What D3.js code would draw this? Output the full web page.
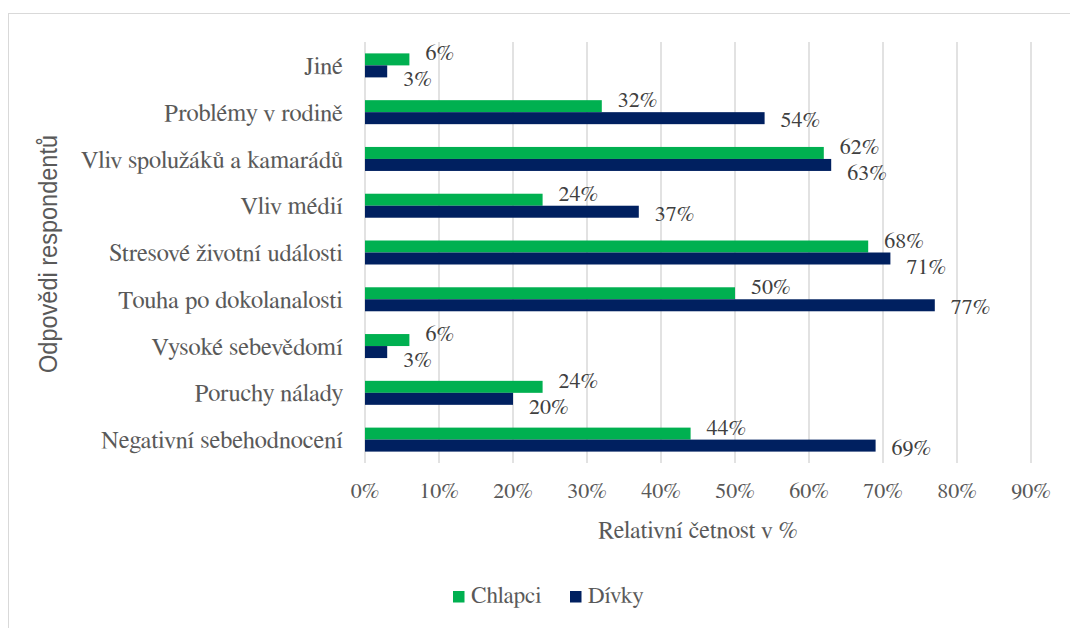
<!DOCTYPE html>
<html>
<head>
<meta charset="utf-8">
<script src="https://cdn.jsdelivr.net/npm/d3@7"></script>
<style>
  body { margin: 0; background: #fff; }
</style>
</head>
<body>
<div id="chart"></div>
<script>
const categories = [
  "Jiné",
  "Problémy v rodině",
  "Vliv spolužáků a kamarádů",
  "Vliv médií",
  "Stresové životní události",
  "Touha po dokolanalosti",
  "Vysoké sebevědomí",
  "Poruchy nálady",
  "Negativní sebehodnocení",
];
const chlapci = [6, 32, 62, 24, 68, 50, 6, 24, 44];
const divky = [3, 54, 63, 37, 71, 77, 3, 20, 69];
const xTicks = [0, 10, 20, 30, 40, 50, 60, 70, 80, 90];
const seriesNames = ["Chlapci", "Dívky"];
const colors = ["#00B050", "#002060"];

const serif = "FreeSerif";
const size = { width: 1070, height: 628 };
const margin = { top: 42, bottom: 165, left: 365, right: 39 };

const svg = d3
  .select("#chart")
  .append("svg")
  .attr("width", size.width)
  .attr("height", size.height)
  .style("font-family", serif);

// chart frame (only left/top edges fall inside the picture)
svg
  .append("rect")
  .attr("x", 8.5)
  .attr("y", 13.5)
  .attr("width", size.width)
  .attr("height", size.height)
  .attr("fill", "none")
  .attr("stroke", "#d9d9d9");

const x = d3
  .scaleLinear()
  .domain([0, 90])
  .range([margin.left, size.width - margin.right]);

const y = d3
  .scaleBand()
  .domain(categories)
  .range([margin.top, size.height - margin.bottom]);

const inner = d3.scaleBand().domain(seriesNames).range([0, 24]);
const pad = (y.bandwidth() - 24) / 2;

// gridlines
const grid = svg.append("g");
xTicks.forEach((t) => {
  grid
    .append("line")
    .attr("x1", x(t))
    .attr("x2", x(t))
    .attr("y1", margin.top)
    .attr("y2", size.height - margin.bottom)
    .attr("stroke", "#d9d9d9")
    .attr("stroke-width", 1.5);
});

// tick labels
svg
  .append("g")
  .selectAll("text")
  .data(xTicks)
  .join("text")
  .text((d) => d + "%")
  .attr("x", (d) => x(d))
  .attr("y", 498)
  .attr("text-anchor", "middle")
  .attr("fill", "#595959")
  .style("font-family", serif)
  .style("font-size", "22px");

// category labels
svg
  .append("g")
  .selectAll("text")
  .data(categories)
  .join("text")
  .text((d) => d)
  .attr("x", 343)
  .attr("y", (d) => y(d) + y.bandwidth() / 2)
  .attr("dy", "0.35em")
  .attr("text-anchor", "end")
  .attr("fill", "#595959")
  .style("font-family", serif)
  .style("font-size", "24.5px");

const series = [chlapci, divky];
series.forEach((vals, si) => {
  const g = svg.append("g");
  g.selectAll("rect")
    .data(vals)
    .join("rect")
    .attr("x", x(0))
    .attr("y", (d, i) => y(categories[i]) + pad + inner(seriesNames[si]))
    .attr("width", (d) => x(d) - x(0))
    .attr("height", inner.bandwidth())
    .attr("fill", colors[si]);

  // labels pushed apart like Excel does when the two bars end close together
  g.selectAll("text")
    .data(vals)
    .join("text")
    .text((d) => d + "%")
    .attr("x", (d) => x(d) + 16)
    .attr("y", (d, i) => {
      const mid = y(categories[i]) + pad + inner(seriesNames[si]) + inner.bandwidth() / 2;
      if (si === 0) return mid + 1;
      const close = Math.abs(chlapci[i] - divky[i]) < 8;
      return mid + (close ? 15 : 9);
    })
    .attr("fill", "#404040")
    .style("font-family", serif)
    .style("font-size", "22px");
});

// axis titles
svg
  .append("text")
  .text("Relativní četnost v %")
  .attr("x", x(45))
  .attr("y", 538)
  .attr("text-anchor", "middle")
  .attr("fill", "#595959")
  .style("font-family", serif)
  .style("font-size", "24px");

svg
  .append("text")
  .text("Odpovědi respondentů")
  .attr("transform", "translate(57, 254) rotate(-90)")
  .attr("text-anchor", "middle")
  .attr("textLength", 238)
  .attr("lengthAdjust", "spacingAndGlyphs")
  .attr("fill", "#595959")
  .style("font-family", "'Liberation Sans', Arial, sans-serif")
  .style("font-size", "25px");

// legend
const legend = svg.append("g");
const legendX = [453, 570];
seriesNames.forEach((name, i) => {
  legend
    .append("rect")
    .attr("x", legendX[i])
    .attr("y", 591)
    .attr("width", 11.5)
    .attr("height", 11.5)
    .attr("fill", colors[i]);
  legend
    .append("text")
    .text(name)
    .attr("x", legendX[i] + 18)
    .attr("y", 603)
    .attr("fill", "#595959")
    .style("font-family", serif)
    .style("font-size", "23px");
});
</script>
</body>
</html>
